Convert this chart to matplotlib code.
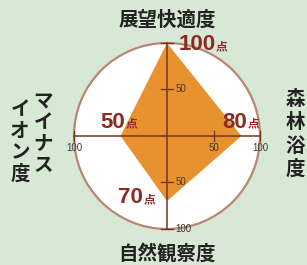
import numpy as np
import matplotlib.pyplot as plt
from matplotlib.patches import Circle, Polygon

# scores per axis (top, right, bottom, left)
categories = ['展望快適度', '森林浴度', '自然観察度', 'マイナスイオン度']
scores = [100, 80, 70, 50]
angles = [90, 0, 270, 180]
tick_vals = [50, 100]

bg = '#d7e8d4'
axis_col = '#7a3322'
label_col = '#8b2b22'
jp = ['Noto Sans CJK JP', 'DejaVu Sans']

# 0.93 px per score unit, centre at pixel (167,136)
s = 0.93
fig = plt.figure(figsize=(3.07, 2.65), dpi=100)
fig.patch.set_facecolor(bg)
ax = fig.add_axes([0, 0, 1, 1])
ax.set_xlim(-167 / s, (307 - 167) / s)
ax.set_ylim(-(265 - 136) / s, 136 / s)
ax.set_aspect('equal')
ax.axis('off')

ax.add_patch(Circle((0, 0), 100, facecolor='white', edgecolor='#b98574', lw=1.6, zorder=1))

pts = [(v * np.cos(np.radians(a)), v * np.sin(np.radians(a))) for v, a in zip(scores, angles)]
ax.add_patch(Polygon(pts, closed=True, facecolor='#e8922f', edgecolor='none', zorder=2))

# axes lines
ax.plot([0, 0], [-100, 100], color=axis_col, lw=1.1, zorder=3)
ax.plot([-100, 100], [0, 0], color=axis_col, lw=1.1, zorder=3)

for t in tick_vals:
    ax.plot([-6, 6], [t, t], color=axis_col, lw=1.0, zorder=3)
    ax.plot([-6, 6], [-t, -t], color=axis_col, lw=1.0, zorder=3)
    ax.plot([t, t], [-5, 5], color=axis_col, lw=1.0, zorder=3)
ax.plot([-100, -100], [-5, 5], color=axis_col, lw=1.0, zorder=3)

tk = dict(fontsize=7, color='#3a3a3a', family='Liberation Sans', zorder=4)
ax.text(9, 50, '50', ha='left', va='center', **tk)
ax.text(9, -50, '50', ha='left', va='center', **tk)
ax.text(9, -100, '100', ha='left', va='center', **tk)
ax.text(50, -8, '50', ha='center', va='top', **tk)
ax.text(100, -8, '100', ha='center', va='top', **tk)
ax.text(-100, -8, '100', ha='center', va='top', **tk)

# score labels
big = dict(fontsize=16, fontweight='bold', color=label_col, family='Liberation Sans',
           va='baseline', zorder=5)
small = dict(fontsize=8.5, fontweight='bold', color=label_col, family=jp, va='baseline', zorder=5)
score_pos = [(12, 92), (59, 9), (-53, -72), (-72, 9)]
for (x, y), v in zip(score_pos, scores):
    w = 0.556 * 16 * 100 / 72 / s * len(str(v))
    ax.text(x, y, str(v), ha='left', **big)
    ax.text(x + w + 1, y, '点', ha='left', **small)

# category labels
cat = dict(fontsize=14, color='#222222', family=jp, fontweight='bold', ha='center', va='center')
ax.text(0, 125, categories[0], **cat)
ax.text(0, -126, categories[2], **cat)
for i, ch in enumerate(categories[1]):
    ax.text(138, 39 - i * 25, ch, **cat)
left = categories[3]
for i, ch in enumerate(left[:4]):
    ax.text(-133, 37 - i * 23, ch, **cat)
for i, ch in enumerate(left[4:]):
    ax.text(-158, 28 - i * 23, ch, **cat)

plt.savefig('out.png', dpi=100, facecolor=bg)
